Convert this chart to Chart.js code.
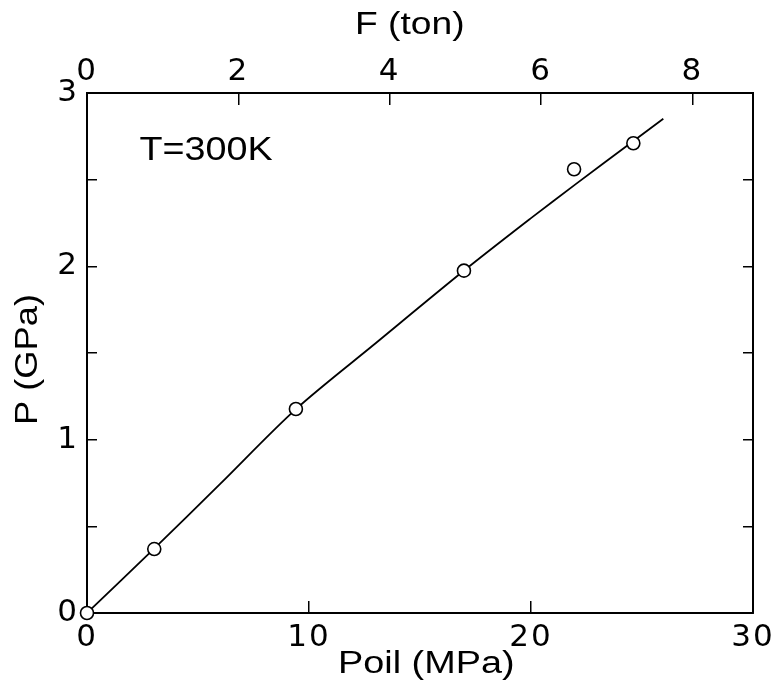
<!DOCTYPE html>
<html>
<head>
<meta charset="utf-8">
<script src="https://cdn.jsdelivr.net/npm/chart.js@4"></script>
<style>
  html, body { margin: 0; padding: 0; background: #fff; }
  #c { display: block; }
</style>
</head>
<body>
<canvas id="c" width="775" height="681"></canvas>
<script>
// ---- data ----
const poilData = [0, 3.03, 9.41, 16.98, 21.94, 24.61];        // MPa (measured points)
const pData    = [0, 0.369, 1.177, 1.975, 2.560, 2.710];      // GPa
const fitPoil  = [0, 3.0, 6.0, 9.4, 13.0, 17.0, 20.0, 22.0, 24.6, 25.96]; // MPa (fitted curve)
const fitP     = [0, 0.368, 0.745, 1.175, 1.556, 1.977, 2.278, 2.473, 2.722, 2.851]; // GPa
const xTicks   = [0, 10, 20, 30];                 // Poil (MPa)
const fTicks   = [0, 2, 4, 6, 8];                 // F (ton)
const yTicks   = [0, 0.5, 1, 1.5, 2, 2.5, 3];     // P (GPa)
const yLabels  = ['0', '', '1', '', '2', '', '3'];
const xTitle = 'Poil (MPa)', topTitle = 'F (ton)', yTitle = 'P (GPa)', note = 'T=300K';

const TFONT = '"Liberation Sans", Arial, sans-serif';
const tickFont = { family: '"DejaVu Sans", sans-serif', size: 31 };

const pts = poilData.map((x, i) => ({ x, y: pData[i] }));
const fit = fitPoil.map((x, i) => ({ x, y: fitP[i] }));

function wideText(ctx, text, x, y, k, rot) {
  ctx.save();
  ctx.translate(x, y);
  if (rot) ctx.rotate(rot);
  ctx.scale(k, 1);
  ctx.fillText(text, 0, 0);
  ctx.restore();
}

const textPlugin = {
  id: 'texts',
  beforeDraw(chart) {
    chart.ctx.letterSpacing = '2px';   // applies to tick labels
  },
  afterDraw(chart) {
    const a = chart.chartArea, ctx = chart.ctx;
    ctx.save();
    ctx.letterSpacing = '0px';
    ctx.fillStyle = '#000';
    ctx.textAlign = 'left';
    ctx.textBaseline = 'alphabetic';
    ctx.font = '31px ' + TFONT;
    wideText(ctx, xTitle, a.left + 251, a.bottom + 60, 1.22, 0);
    wideText(ctx, topTitle, a.left + 268, a.top - 59, 1.2, 0);
    wideText(ctx, yTitle, a.left - 50, a.top + 332, 1.17, -Math.PI / 2);
    ctx.font = '32.5px ' + TFONT;
    wideText(ctx, note, a.left + 52.5, a.top + 66.5, 1.16, 0);
    ctx.restore();
  }
};

function fixed(prop, v) {
  return s => {
    s[prop] = v;
    s.paddingLeft = 0; s.paddingRight = 0; s.paddingTop = 0; s.paddingBottom = 0;
  };
}
function setTicks(arr) { return s => { s.ticks = arr.map(v => ({ value: v })); }; }

new Chart(document.getElementById('c'), {
  type: 'scatter',
  data: {
    datasets: [
      {
        data: pts,
        xAxisID: 'x', yAxisID: 'y',
        showLine: false,
        pointRadius: 6.5,
        pointBorderWidth: 1.6,
        pointBackgroundColor: '#fff',
        pointBorderColor: '#000',
        clip: false
      },
      {
        data: fit,
        xAxisID: 'x', yAxisID: 'y',
        showLine: true,
        pointRadius: 0,
        borderColor: '#000',
        borderWidth: 1.8,
        tension: 0.3,
        fill: false
      }
    ]
  },
  options: {
    responsive: false,
    animation: false,
    devicePixelRatio: 1,
    layout: { padding: 0 },
    plugins: { legend: { display: false }, tooltip: { enabled: false } },
    scales: {
      x: {
        type: 'linear', position: 'bottom', min: 0, max: 30,
        afterBuildTicks: setTicks(xTicks),
        afterFit: fixed('height', 68),
        border: { display: true, color: '#000', width: 2 },
        grid: { drawOnChartArea: false, drawTicks: true, tickLength: -12, color: '#000', lineWidth: 1.5 },
        ticks: { font: tickFont, color: '#000', padding: 18, maxRotation: 0, autoSkip: false,
                 callback: v => String(v) },
        title: { display: false }
      },
      x2: {
        type: 'linear', axis: 'x', position: 'top', min: 0, max: 8.8,
        afterBuildTicks: setTicks(fTicks),
        afterFit: fixed('height', 93),
        border: { display: true, color: '#000', width: 2 },
        grid: { drawOnChartArea: false, drawTicks: true, tickLength: -12, color: '#000', lineWidth: 1.5 },
        ticks: { font: tickFont, color: '#000', padding: 14.5, maxRotation: 0, autoSkip: false,
                 callback: v => String(v) }
      },
      y: {
        type: 'linear', position: 'left', min: 0, max: 3,
        afterBuildTicks: setTicks(yTicks),
        afterFit: fixed('width', 87),
        border: { display: true, color: '#000', width: 2 },
        grid: { drawOnChartArea: false, drawTicks: true, tickLength: -10, color: '#000', lineWidth: 1.5 },
        ticks: { font: tickFont, color: '#000', padding: 18, autoSkip: false,
                 callback: (v, i) => yLabels[i] }
      },
      y2: {
        type: 'linear', axis: 'y', position: 'right', min: 0, max: 3,
        afterBuildTicks: setTicks(yTicks),
        afterFit: fixed('width', 22),
        border: { display: true, color: '#000', width: 2 },
        grid: { drawOnChartArea: false, drawTicks: true, tickLength: -10, color: '#000', lineWidth: 1.5 },
        ticks: { font: tickFont, color: '#000', padding: 0, autoSkip: false,
                 callback: () => '' }
      }
    }
  },
  plugins: [textPlugin]
});
</script>
</body>
</html>
